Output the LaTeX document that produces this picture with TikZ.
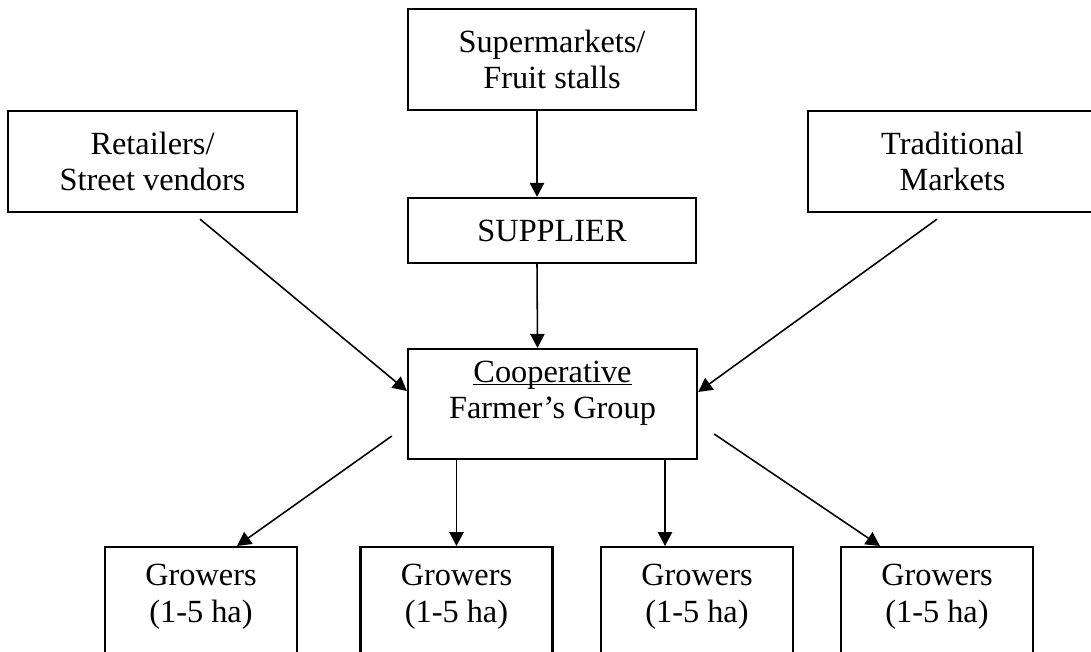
\documentclass[tikz,border=0pt]{standalone}
\usepackage{fontspec}
\setmainfont{Liberation Serif}
\usetikzlibrary{arrows.meta}

\begin{document}
\begin{tikzpicture}[x=0.025cm,y=-0.025cm,
  box/.style={draw,line width=1.6pt,rectangle,align=center,inner sep=0pt,font=\fontsize{23pt}{26pt}\selectfont},
  growbox/.style={box,anchor=north,minimum width=4.8cm,inner ysep=0.425cm,text depth=3cm},
  flow/.style={-{Triangle[length=0.35cm,width=0.36cm]},line width=1.1pt}]
\useasboundingbox (0,0) rectangle (1091,651);
\clip (0,0) rectangle (1091,651);

\node[box,minimum width=7.2cm,minimum height=2.525cm] (super) at (552,59.5) {Supermarkets/\\Fruit stalls};
\node[box,minimum width=7.225cm,minimum height=2.525cm] (retail) at (152.5,161.5) {Retailers/\\Street vendors};
\node[box,minimum width=7.225cm,minimum height=2.525cm] (trad) at (952.5,161.5) {Traditional\\Markets};
\node[box,minimum width=7.2cm,minimum height=1.625cm] (supl) at (552,230.5) {SUPPLIER};
\node[box,minimum width=7.225cm,minimum height=2.75cm] (coop) at (552.5,404) {\underline{\smash{Cooperative}}\\Farmer’s Group};

\node[growbox] (g1) at (201,546) {Growers\\(1-5 ha)};
\node[growbox] (g2) at (456.5,546) {Growers\\(1-5 ha)};
\node[growbox] (g3) at (697,546) {Growers\\(1-5 ha)};
\node[growbox] (g4) at (937,546) {Growers\\(1-5 ha)};

\draw[flow] ([xshift=-0.375cm]super.south) -- ([xshift=-0.375cm]supl.north);
\draw[flow] ([xshift=-0.375cm]supl.south) -- ([xshift=-0.375cm]coop.north);
\draw[flow] ([xshift=1.1875cm,yshift=-0.15cm]retail.south) -- ([yshift=0.325cm]coop.west);
\draw[flow] ([xshift=-0.3875cm,yshift=-0.15cm]trad.south) -- ([yshift=0.3cm]coop.east);

\draw[flow] ([xshift=-0.375cm,yshift=-0.8cm]coop.west) -- ([xshift=0.9cm]g1.north);
\draw[flow] (coop.south -| g2.north) -- (g2.north);
\draw[flow] ([xshift=-0.8cm]g3.north |- coop.south) -- ([xshift=-0.8cm]g3.north);
\draw[flow] ([xshift=0.4cm,yshift=-0.75cm]coop.east) -- ([xshift=-1.425cm]g4.north);

\end{tikzpicture}
\end{document}
